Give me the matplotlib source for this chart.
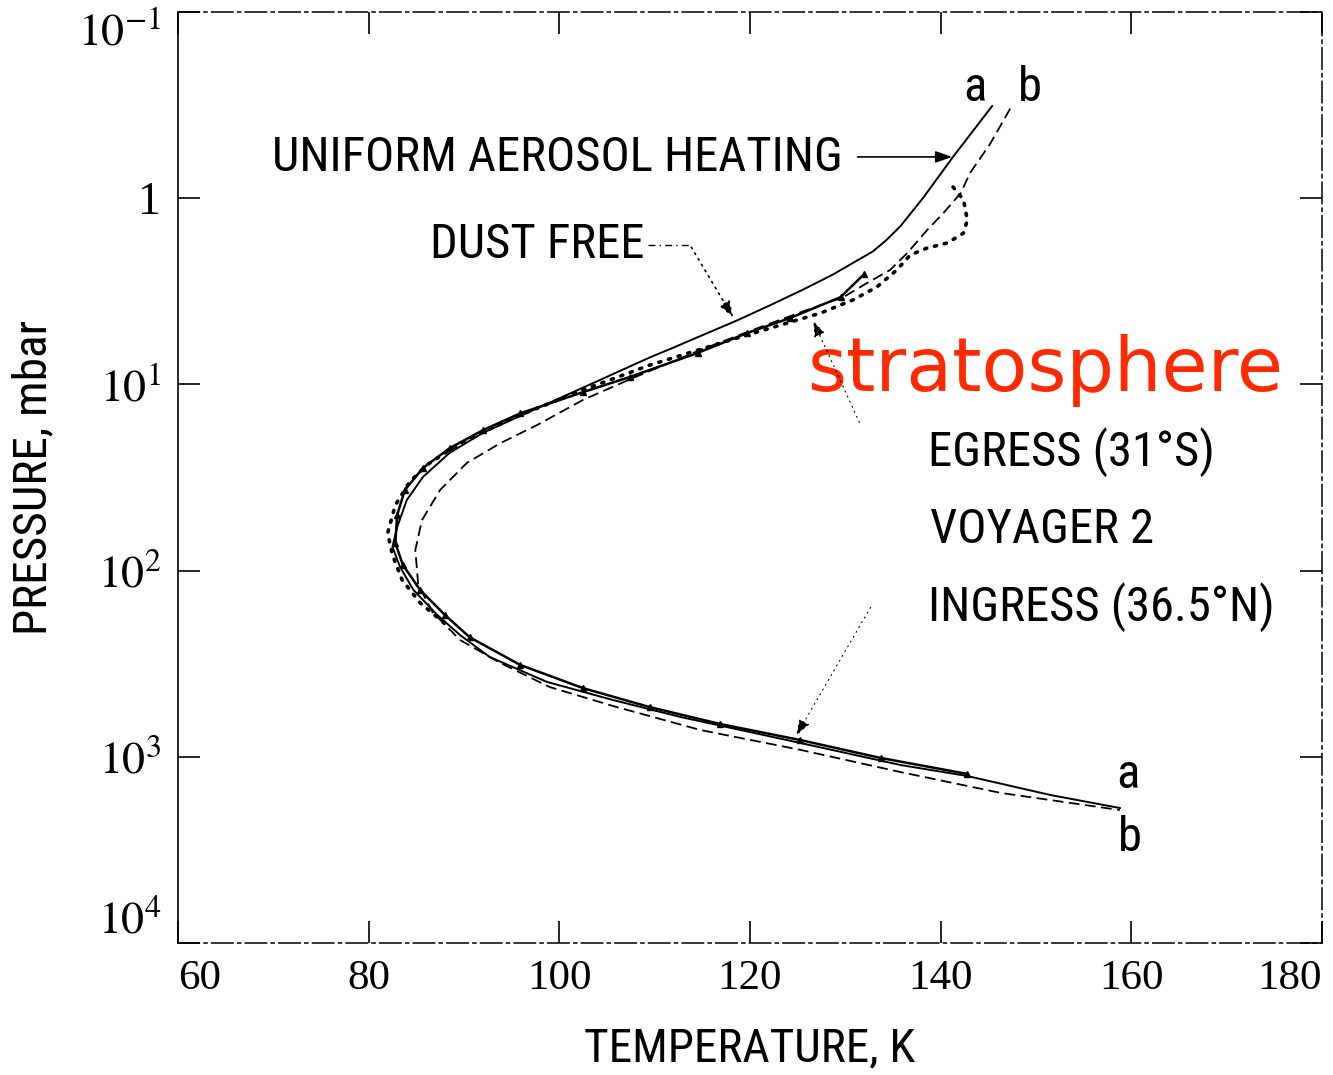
import matplotlib

matplotlib.use("Agg")
import matplotlib.pyplot as plt
from matplotlib import font_manager

# Temperature (K) / pressure (mbar) profiles
T_A = [145.4, 141.3, 138.2, 135.8, 134.3, 132.9, 128.7, 125.6, 122.1, 118.7, 111.6,
       109.5, 102.5, 95.6, 92.0, 88.5, 85.7, 84.0, 83.0, 82.5, 83.3, 84.7, 87.2,
       89.6, 92.7, 98.7, 105.6, 112.7, 125.3, 135.8, 142.8, 151.5, 158.8]
P_A = [0.32, 0.60, 0.99, 1.41, 1.68, 1.93, 2.57, 3.09, 3.76, 4.52, 6.46,
       7.16, 10.4, 15.0, 18.2, 23.3, 31.4, 41.8, 58.3, 74.6, 95.7, 127, 173,
       222, 291, 396, 495, 611, 843, 1107, 1268, 1603, 1884]

T_B = [147.3, 145.2, 143.1, 142.1, 140.3, 138.6, 136.5, 134.7, 132.3, 129.8, 126.0,
       121.1, 114.8, 107.7, 102.5, 97.7, 93.8, 90.3, 87.5, 85.6, 84.9, 85.2, 86.7,
       89.6, 93.8, 99.0, 105.6, 114.8, 125.3, 135.8, 146.3, 158.8]
P_B = [0.33, 0.51, 0.73, 0.94, 1.20, 1.48, 1.97, 2.43, 2.85, 3.40, 3.98,
       4.92, 6.53, 9.25, 12.1, 16.5, 20.7, 26.4, 36.9, 53.5, 77.4, 119, 167,
       236, 313, 422, 533, 718, 918, 1208, 1563, 1932]

T_EGRESS = [141.3, 142.4, 142.8, 142.4, 140.7, 138.6, 136.8, 135.4, 133.3, 130.8,
            127.4, 123.2, 116.9, 109.5, 102.5, 95.9, 92.0, 88.5, 86.1, 84.3, 82.8,
            82.0, 82.5, 83.5, 85.4, 88.5]
P_EGRESS = [0.87, 1.02, 1.31, 1.54, 1.74, 1.85, 2.02, 2.43, 3.00, 3.52,
            4.14, 4.80, 6.00, 7.87, 10.7, 14.6, 18.0, 22.5, 27.1, 33.4, 44.5,
            62.8, 82.4, 112, 149, 203]

T_INGRESS = [132.0, 129.5, 124.2, 119.7, 114.5, 107.4, 102.5, 95.9, 92.0, 88.5, 85.7,
             83.8, 83.0, 82.8, 83.6, 85.4, 88.0, 90.6, 95.9, 102.5, 109.5, 116.9,
             125.3, 133.7, 142.8]
P_INGRESS = [2.55, 3.40, 4.40, 5.30, 6.78, 9.12, 11.0, 14.3, 17.6, 22.0, 28.1,
             36.9, 50.2, 71.1, 93.3, 127, 173, 228, 321, 428, 541, 667,
             813, 1014, 1236]

X_TICKS = [60, 80, 100, 120, 140, 160, 180]
Y_TICKS = [0.1, 1, 10, 100, 1000, 10000]
Y_TICK_LABELS = [r"$10^{-1}$", "1", r"$10^{1}$", r"$10^{2}$", r"$10^{3}$", r"$10^{4}$"]

# narrowest sans available for the typed-in labels
installed = {f.name for f in font_manager.fontManager.ttflist}
if "Liberation Sans Narrow" in installed:
    NARROW, LABEL_SIZE = "Liberation Sans Narrow", 34
elif "Roboto Condensed" in installed:
    NARROW, LABEL_SIZE = "Roboto Condensed", 35
elif "Roboto" in installed:
    NARROW, LABEL_SIZE = "Roboto", 31
else:
    NARROW, LABEL_SIZE = "DejaVu Sans", 29

plt.rcParams["mathtext.fontset"] = "stix"
plt.rcParams["font.family"] = ["Liberation Serif", "DejaVu Serif"]

fig = plt.figure(figsize=(13.33, 10.75), dpi=100)
ax = fig.add_axes([0.1335, 0.1228, 0.8582, 0.866])

ax.plot(T_A, P_A, color="black", lw=1.4)
ax.plot(T_B, P_B, color="black", lw=1.3, linestyle=(0, (6, 3)))
ax.plot(T_EGRESS, P_EGRESS, color="black", lw=2.6, linestyle=(0, (0.6, 2.2)),
        dash_capstyle="round")
ax.plot(T_INGRESS, P_INGRESS, color="black", lw=1.8, marker="^", markersize=5)

ax.set_yscale("log")
ax.set_xlim(60, 180)
ax.set_ylim(10000, 0.1)

ax.set_xticks(X_TICKS)
ax.set_xticklabels([str(t) for t in X_TICKS])
ax.set_yticks(Y_TICKS)
ax.set_yticklabels(Y_TICK_LABELS)
ax.minorticks_off()
ax.tick_params(direction="in", length=16, width=1.2, top=True, right=True,
               labelsize=31, pad=12)
ax.tick_params(axis="y", labelsize=33)
xl = ax.get_xticklabels()
xl[0].set_ha("left")
xl[-1].set_ha("right")
yl = ax.get_yticklabels()
yl[0].set_va("top")
yl[-1].set_va("bottom")

for side in ["top", "bottom", "right"]:
    ax.spines[side].set_linestyle((0, (14, 3, 2, 3)))
    ax.spines[side].set_linewidth(1.1)
ax.spines["left"].set_linewidth(1.2)

ax.set_xlabel("TEMPERATURE, K", family=NARROW, fontsize=LABEL_SIZE - 1, labelpad=20)
ax.set_ylabel("PRESSURE, mbar", family=NARROW, fontsize=LABEL_SIZE - 1, labelpad=16)

txt = dict(family=NARROW, fontsize=LABEL_SIZE, color="black", va="center", ha="left")
ax.text(69.9, 0.61, "UNIFORM AEROSOL HEATING", **txt)
ax.text(86.4, 1.78, "DUST FREE", **txt)
ax.text(138.7, 23.1, "EGRESS (31°S)", **txt)
ax.text(138.9, 60.5, "VOYAGER 2", **txt)
ax.text(138.7, 157, "INGRESS (36.5°N)", **txt)

ab = dict(family=NARROW, fontsize=LABEL_SIZE, color="black", va="center", ha="center")
ax.text(143.6, 0.256, "a", **ab)
ax.text(149.4, 0.256, "b", **ab)
ax.text(159.7, 1253, "a", **ab)
ax.text(159.9, 2729, "b", **ab)

ax.text(126.1, 8.37, "stratosphere", fontsize=54, color="#ff2a00",
        family=["DejaVu Sans"], va="center", ha="left")

# leader lines with arrowheads
head = dict(arrowstyle="-|>,head_length=1.0,head_width=0.35", color="black", lw=1.2)
ax.annotate("", xy=(141.5, 0.60), xytext=(131.0, 0.60), arrowprops=head)
ax.plot([109.3, 113.7], [1.78, 1.78], color="black", lw=1.0, linestyle=(0, (5, 3, 1, 3)))
ax.annotate("", xy=(118.4, 4.51), xytext=(113.7, 1.78),
            arrowprops=dict(head, linestyle=(0, (1, 3))))
ax.annotate("", xy=(126.5, 4.40), xytext=(131.6, 16.5),
            arrowprops=dict(head, lw=0.8, linestyle=(0, (1, 4))))
ax.annotate("", xy=(124.7, 793), xytext=(132.8, 153),
            arrowprops=dict(head, lw=0.8, linestyle=(0, (1, 4))))

fig.savefig("out.png", dpi=100)
